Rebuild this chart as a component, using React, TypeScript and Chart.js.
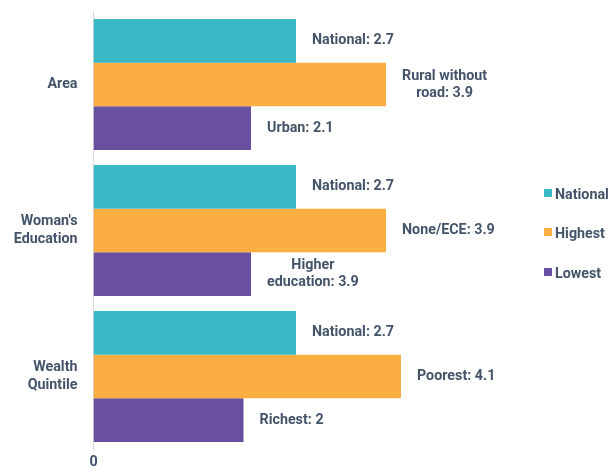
import React, { useEffect, useRef } from "react";
import { Chart, registerables } from "chart.js";

Chart.register(...registerables);

const categories: string[][] = [["Area"], ["Woman's", "Education"], ["Wealth", "Quintile"]];
const seriesNames = ["National", "Highest", "Lowest"];
const nationalValues = [2.7, 2.7, 2.7];
const highestValues = [3.9, 3.9, 4.1];
const lowestValues = [2.1, 2.1, 2.0];
const nationalLabels = [["National: 2.7"], ["National: 2.7"], ["National: 2.7"]];
const highestLabels = [["Rural without", "road: 3.9"], ["None/ECE: 3.9"], ["Poorest: 4.1"]];
const lowestLabels = [["Urban: 2.1"], ["Higher", "education: 3.9"], ["Richest: 2"]];
const colors = ["#3BB8C6", "#FBAF42", "#694FA0"];

const TEXT = "#44546A";
const FONT = "Roboto, 'Liberation Sans', sans-serif";
const FS = 14.3;
const FW = "bold";

export default function App() {
  const ref = useRef<HTMLCanvasElement | null>(null);

  useEffect(() => {
    if (!ref.current) return;
    const allLabels = [nationalLabels, highestLabels, lowestLabels];

    const labelPlugin = {
      id: "barLabels",
      afterDatasetsDraw(chart: any) {
        const ctx = chart.ctx;
        ctx.save();
        ctx.font = `${FW} ${FS}px ${FONT}`;
        ctx.fillStyle = TEXT;
        ctx.textAlign = "center";
        ctx.textBaseline = "middle";
        chart.data.datasets.forEach((ds: any, di: number) => {
          const meta = chart.getDatasetMeta(di);
          meta.data.forEach((bar: any, i: number) => {
            const lines = allLabels[di][i];
            const w = Math.max(...lines.map((l: string) => ctx.measureText(l).width));
            const cx = bar.x + 16 + w / 2;
            const lh = 17;
            const y0 = bar.y - ((lines.length - 1) * lh) / 2;
            lines.forEach((l: string, k: number) => ctx.fillText(l, cx, y0 + k * lh));
          });
        });
        ctx.restore();
      },
    };

    const legendPlugin = {
      id: "customLegend",
      afterDraw(chart: any) {
        const ctx = chart.ctx;
        ctx.save();
        ctx.font = `${FW} ${FS}px ${FONT}`;
        ctx.textBaseline = "middle";
        ctx.textAlign = "left";
        const ys = [195, 234, 274];
        chart.data.datasets.forEach((ds: any, i: number) => {
          ctx.fillStyle = ds.backgroundColor;
          ctx.fillRect(544, ys[i] - 6, 8, 8);
          ctx.fillStyle = TEXT;
          ctx.fillText(ds.label, 555, ys[i]);
        });
        ctx.restore();
      },
    };

    const chart = new Chart(ref.current, {
      type: "bar",
      data: {
        labels: categories,
        datasets: [
          { label: seriesNames[0], data: nationalValues, backgroundColor: colors[0] },
          { label: seriesNames[1], data: highestValues, backgroundColor: colors[1] },
          { label: seriesNames[2], data: lowestValues, backgroundColor: colors[2] },
        ],
      },
      options: {
        indexAxis: "y",
        animation: false,
        responsive: true,
        maintainAspectRatio: false,
        datasets: { bar: { barPercentage: 1, categoryPercentage: 0.897 } },
        layout: { padding: { top: 11.5, right: 67.5, bottom: 0, left: 0 } },
        plugins: { legend: { display: false }, tooltip: { enabled: false } },
        scales: {
          x: {
            min: 0,
            max: 6,
            grid: { display: false, drawTicks: false },
            border: { display: false },
            afterFit: (s: any) => {
              s.height = 25.5;
              s.paddingLeft = 0;
              s.paddingRight = 0;
            },
            ticks: {
              padding: 4,
              color: TEXT,
              font: { family: FONT, size: FS, weight: FW },
              stepSize: 1,
              callback: (v: any) => (v === 0 ? "0" : ""),
            },
          },
          y: {
            grid: { display: false, drawTicks: false },
            border: { display: true, color: "#D9D9D9", width: 1 },
            afterFit: (s: any) => {
              s.width = 93.5;
              s.paddingTop = 0;
              s.paddingBottom = 0;
            },
            ticks: {
              padding: 16,
              color: TEXT,
              font: { family: FONT, size: FS, weight: FW, lineHeight: 1.25 },
            },
          },
        },
      },
      plugins: [labelPlugin, legendPlugin],
    });
    return () => chart.destroy();
  }, []);

  return (
    <div style={{ position: "fixed", left: 0, top: 0, width: 611, height: 475, background: "#fff" }}>
      <canvas ref={ref} />
    </div>
  );
}
